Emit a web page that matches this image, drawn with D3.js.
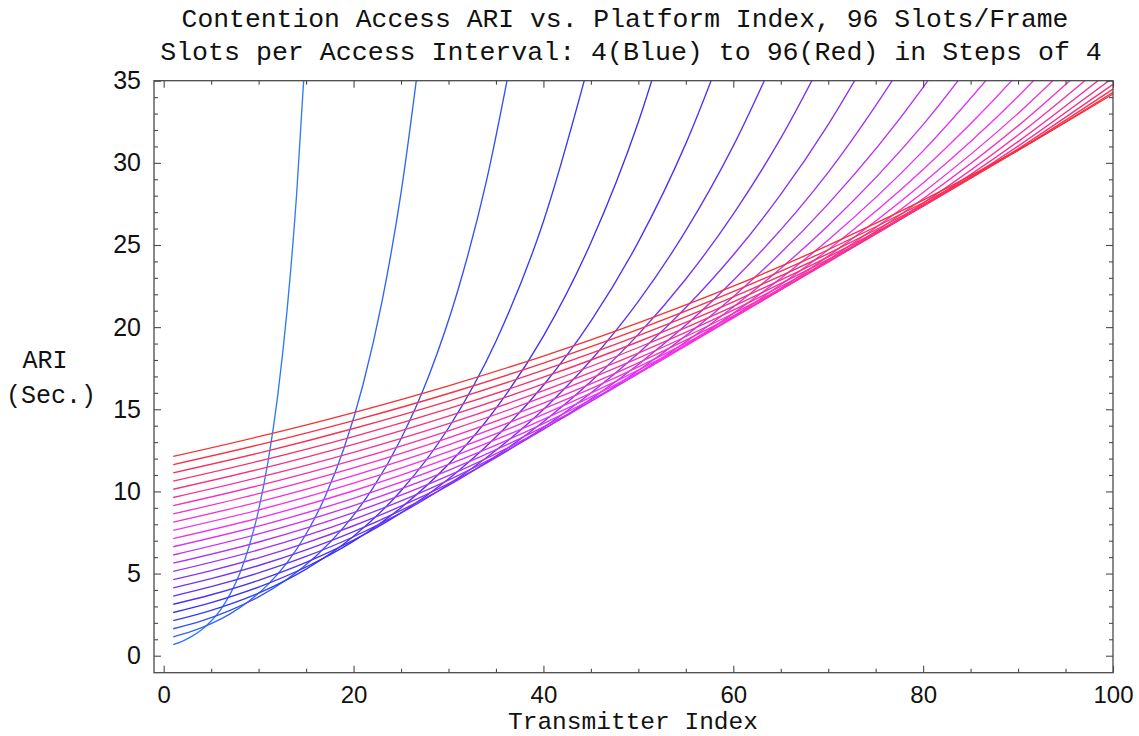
<!DOCTYPE html>
<html>
<head>
<meta charset="utf-8">
<script src="https://cdn.jsdelivr.net/npm/d3@7"></script>
<style>
  html, body { margin: 0; padding: 0; background: #ffffff; }
  svg { display: block; }
  .mono { font-family: "Liberation Mono", "Courier New", monospace; fill: #111; }
  .tick text { font-family: "Liberation Sans", Arial, sans-serif; fill: #111; }
</style>
</head>
<body>
<svg id="chart" width="1139" height="736"></svg>
<script>
// Slots per access interval, one curve each (4 = blue ... 96 = red)
const slotsPerInterval = [4, 8, 12, 16, 20, 24, 28, 32, 36, 40, 44, 48,
                          52, 56, 60, 64, 68, 72, 76, 80, 84, 88, 92, 96];

// Transmitter index grids the curves are sampled on
const idxStep1  = [1, 2, 3, 4, 5, 6, 7, 8, 9, 10, 11, 12, 13, 14, 15];
const idxStep2  = [1, 3, 5, 7, 9, 11, 13, 15, 17, 19, 21, 23, 25, 27];
const idxStep3  = [1, 4, 7, 10, 13, 16, 19, 22, 25, 28, 31, 34, 37];
const idxStep5  = [1, 5, 10, 15, 20, 25, 30, 35, 40, 45, 50, 55, 60, 65, 70, 75];
const idxStep10 = [1, 10, 20, 30, 40, 50, 60, 70, 80, 90, 100];

// ARI (seconds) per curve
const ari04 = [0.67, 0.89, 1.19, 1.58, 2.11, 2.81, 3.75, 4.99, 6.66, 8.88, 11.84, 15.78, 21.05, 28.06, 37.42];
const ari08 = [1.14, 1.49, 1.95, 2.55, 3.33, 4.34, 5.67, 7.41, 9.68, 12.64, 16.51, 21.57, 28.17, 36.79];
const ari12 = [1.64, 2.12, 2.76, 3.58, 4.65, 6.04, 7.84, 10.17, 13.21, 17.15, 22.26, 28.90, 37.52];
const ari16 = [2.13, 2.76, 3.81, 5.27, 7.27, 10.04, 13.86, 19.14, 26.43, 36.50];
const ari20 = [2.63, 3.23, 4.18, 5.40, 6.97, 9.01, 11.65, 15.05, 19.45, 25.14, 32.49, 41.99];
const ari24 = [3.13, 3.71, 4.59, 5.68, 7.03, 8.69, 10.76, 13.31, 16.46, 20.36, 25.19, 31.17, 38.56];
const ari28 = [3.63, 4.20, 5.04, 6.04, 7.24, 8.69, 10.42, 12.50, 14.99, 17.98, 21.57, 25.87, 31.03, 37.21];
const ari32 = [4.13, 4.69, 5.49, 6.44, 7.55, 8.85, 10.37, 12.15, 14.24, 16.69, 19.56, 22.93, 26.88, 31.50, 36.92];
const ari36 = [4.63, 5.18, 5.96, 6.87, 7.91, 9.10, 10.48, 12.06, 13.89, 15.99, 18.41, 21.19, 24.39, 28.08, 32.33, 37.22];
const ari40 = [5.13, 6.44, 8.30, 10.69, 13.77, 17.73, 22.84, 29.42, 37.90];
const ari44 = [5.63, 6.92, 8.71, 10.96, 13.80, 17.36, 21.85, 27.50, 34.60, 43.55];
const ari48 = [6.13, 7.41, 9.14, 11.28, 13.93, 17.19, 21.22, 26.19, 32.33, 39.91];
const ari52 = [6.63, 7.89, 9.58, 11.64, 14.13, 17.16, 20.84, 25.31, 30.73, 37.32];
const ari56 = [7.13, 8.38, 10.04, 12.02, 14.39, 17.23, 20.64, 24.71, 29.59, 35.43, 42.43];
const ari60 = [7.63, 8.87, 10.50, 12.42, 14.69, 17.38, 20.56, 24.32, 28.77, 34.04, 40.27];
const ari64 = [8.13, 9.36, 10.96, 12.83, 15.02, 17.58, 20.58, 24.09, 28.20, 33.01, 38.64];
const ari68 = [8.63, 9.86, 11.43, 13.26, 15.37, 17.83, 20.68, 23.98, 27.81, 32.25, 37.40];
const ari72 = [9.13, 10.35, 11.90, 13.69, 15.75, 18.11, 20.83, 23.96, 27.55, 31.69, 36.45];
const ari76 = [9.63, 10.85, 12.38, 14.13, 16.14, 18.42, 21.03, 24.01, 27.41, 31.29, 35.72];
const ari80 = [10.13, 11.34, 12.86, 14.58, 16.54, 18.76, 21.27, 24.12, 27.36, 31.02, 35.18];
const ari84 = [10.63, 11.84, 13.34, 15.04, 16.95, 19.11, 21.54, 24.28, 27.37, 30.85, 34.78];
const ari88 = [11.13, 12.33, 13.83, 15.50, 17.38, 19.48, 21.84, 24.48, 27.45, 30.77, 34.49];
const ari92 = [11.63, 12.83, 14.31, 15.96, 17.81, 19.86, 22.16, 24.71, 27.57, 30.75, 34.30];
const ari96 = [12.13, 13.33, 14.80, 16.43, 18.24, 20.26, 22.49, 24.98, 27.73, 30.79, 34.19];

const ariSeries = [ari04, ari08, ari12, ari16, ari20, ari24, ari28, ari32, ari36,
                   ari40, ari44, ari48, ari52, ari56, ari60, ari64, ari68, ari72,
                   ari76, ari80, ari84, ari88, ari92, ari96];
const idxSeries = [idxStep1, idxStep2, idxStep3,
                   idxStep5, idxStep5, idxStep5, idxStep5, idxStep5, idxStep5,
                   idxStep10, idxStep10, idxStep10, idxStep10, idxStep10, idxStep10, idxStep10,
                   idxStep10, idxStep10, idxStep10, idxStep10, idxStep10, idxStep10, idxStep10, idxStep10];

// Axis ticks
const xMajorTicks = [0, 20, 40, 60, 80, 100];
const xMinorTicks = [5, 10, 15, 25, 30, 35, 45, 50, 55, 65, 70, 75, 85, 90, 95];
const yMajorTicks = [0, 5, 10, 15, 20, 25, 30, 35];
const yMinorTicks = [1, 2, 3, 4, 6, 7, 8, 9, 11, 12, 13, 14, 16, 17, 18, 19,
                     21, 22, 23, 24, 26, 27, 28, 29, 31, 32, 33, 34];

const titleLines = ["Contention Access ARI vs. Platform Index, 96 Slots/Frame",
                    "Slots per Access Interval: 4(Blue) to 96(Red) in Steps of 4"];

// Plot frame
const frame = { left: 154, right: 1113, top: 80.7, bottom: 672.7 };

const svg = d3.select("#chart");
const x = d3.scaleLinear().domain([0, 100]).range([163.7, 1113]);
const y = d3.scaleLinear().domain([0, 35]).range([655.7, 80.7]);

// Hue runs from blue to red across the slot counts
const hue = d3.scaleLinear().domain([4, 96]).range([218, 360]);
const colorFor = n => d3.hsl(hue(n) % 360, 0.92, 0.58).formatHex();

svg.append("defs").append("clipPath").attr("id", "plotClip")
  .append("rect")
  .attr("x", frame.left).attr("y", frame.top)
  .attr("width", frame.right - frame.left).attr("height", frame.bottom - frame.top);

// Curves
const line = d3.line()
  .x(d => x(d[0]))
  .y(d => y(d[1]))
  .curve(d3.curveMonotoneX);

const curves = svg.append("g").attr("clip-path", "url(#plotClip)");
slotsPerInterval.forEach((n, i) => {
  const pts = idxSeries[i].slice(0, ariSeries[i].length).map((t, j) => [t, ariSeries[i][j]]);
  curves.append("path")
    .attr("d", line(pts))
    .attr("fill", "none")
    .attr("stroke", colorFor(n))
    .attr("stroke-width", 1.35)
    .attr("stroke-linejoin", "round");
});

// Frame
const axisColor = "#4a4a4a";
svg.append("rect")
  .attr("x", frame.left).attr("y", frame.top)
  .attr("width", frame.right - frame.left).attr("height", frame.bottom - frame.top)
  .attr("fill", "none").attr("stroke", axisColor).attr("stroke-width", 1.3);

function styleAxis(g) {
  g.select(".domain").remove();
  g.selectAll(".tick line").attr("stroke", axisColor).attr("stroke-width", 1.1);
}

// Bottom / top ticks
svg.append("g").attr("transform", `translate(0,${frame.bottom})`)
  .call(d3.axisBottom(x).tickValues(xMajorTicks).tickSizeInner(-7).tickSizeOuter(0)
        .tickPadding(13).tickFormat(d3.format("d")))
  .call(styleAxis)
  .call(g => g.selectAll(".tick text").attr("font-size", 24).attr("dy", "0.71em"));
svg.append("g").attr("transform", `translate(0,${frame.bottom})`)
  .call(d3.axisBottom(x).tickValues(xMinorTicks).tickSizeInner(-4).tickSizeOuter(0).tickFormat(""))
  .call(styleAxis);
svg.append("g").attr("transform", `translate(0,${frame.top})`)
  .call(d3.axisTop(x).tickValues(xMajorTicks).tickSizeInner(-7).tickSizeOuter(0).tickFormat(""))
  .call(styleAxis);
svg.append("g").attr("transform", `translate(0,${frame.top})`)
  .call(d3.axisTop(x).tickValues(xMinorTicks).tickSizeInner(-4).tickSizeOuter(0).tickFormat(""))
  .call(styleAxis);

// Left / right ticks
svg.append("g").attr("transform", `translate(${frame.left},0)`)
  .call(d3.axisLeft(y).tickValues(yMajorTicks).tickSizeInner(-7).tickSizeOuter(0)
        .tickPadding(13).tickFormat(d3.format("d")))
  .call(styleAxis)
  .call(g => g.selectAll(".tick text").attr("font-size", 25));
svg.append("g").attr("transform", `translate(${frame.left},0)`)
  .call(d3.axisLeft(y).tickValues(yMinorTicks).tickSizeInner(-4).tickSizeOuter(0).tickFormat(""))
  .call(styleAxis);
svg.append("g").attr("transform", `translate(${frame.right},0)`)
  .call(d3.axisRight(y).tickValues(yMajorTicks).tickSizeInner(-7).tickSizeOuter(0).tickFormat(""))
  .call(styleAxis);
svg.append("g").attr("transform", `translate(${frame.right},0)`)
  .call(d3.axisRight(y).tickValues(yMinorTicks).tickSizeInner(-4).tickSizeOuter(0).tickFormat(""))
  .call(styleAxis);

// Titles and axis labels
svg.append("text").attr("class", "mono")
  .attr("x", 625).attr("y", 27).attr("text-anchor", "middle")
  .attr("font-size", 26.4).text(titleLines[0]);
svg.append("text").attr("class", "mono")
  .attr("x", 631).attr("y", 60).attr("text-anchor", "middle")
  .attr("font-size", 26.6).text(titleLines[1]);

svg.append("text").attr("class", "mono")
  .attr("x", 633).attr("y", 728.5).attr("text-anchor", "middle")
  .attr("font-size", 24.5).text("Transmitter Index");

svg.append("text").attr("class", "mono")
  .attr("x", 45).attr("y", 368).attr("text-anchor", "middle")
  .attr("font-size", 25).text("ARI");
svg.append("text").attr("class", "mono")
  .attr("x", 51).attr("y", 403).attr("text-anchor", "middle")
  .attr("font-size", 25).text("(Sec.)");
</script>
</body>
</html>
